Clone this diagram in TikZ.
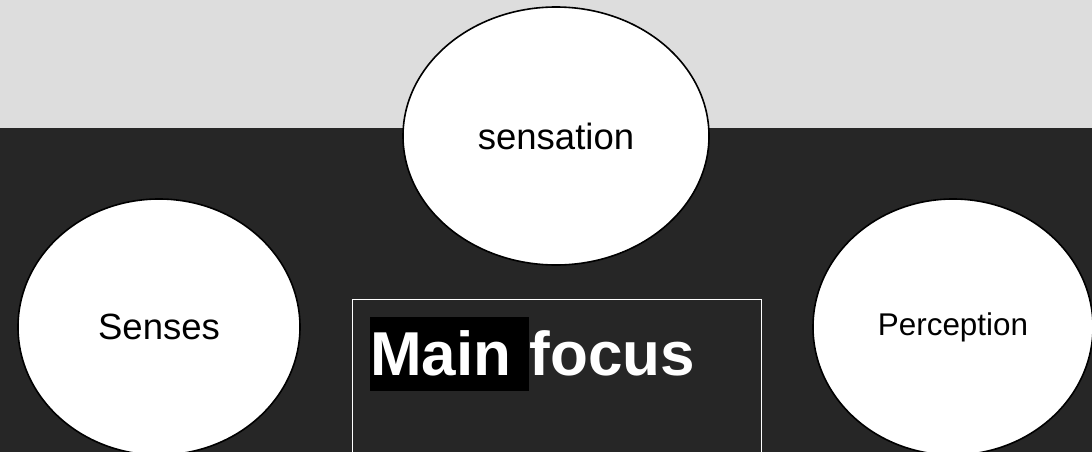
\documentclass[tikz,border=0pt]{standalone}
\usepackage{fontspec}
\setmainfont{Liberation Sans}
\usetikzlibrary{shapes.geometric,positioning}
\definecolor{bandgray}{RGB}{221,221,221}
\definecolor{darkbg}{RGB}{38,38,38}

\begin{document}
\begin{tikzpicture}[x=1pt,y=-1pt,
  every node/.style={inner sep=0pt},
  bubble/.style={ellipse, draw=black, line width=1.6pt, fill=white, text=black}]
\clip (0,0) rectangle (1092,452);
\fill[bandgray] (0,0) rectangle (1092,128);
\fill[darkbg] (0,128) rectangle (1092,452);
\node[bubble, minimum width=306pt, minimum height=258pt, font=\fontsize{36.5}{40}\selectfont] (sensation) at (556,136) {sensation};
\node[bubble, minimum width=282pt, minimum height=256pt, font=\fontsize{36.5}{40}\selectfont] (senses) at (159,327) {Senses};
\node[bubble, minimum width=280pt, minimum height=256pt, font=\fontsize{31.4}{35}\selectfont] (perception) at (953,327) {Perception};
\draw[white, line width=1pt] (352,299) rectangle (761,470);
\node[fill=black, text=white, font=\fontsize{62}{70}\selectfont\bfseries, text width=159pt, align=left, text height=58pt, text depth=16pt, anchor=base west] (mainword) at (370,375) {Main};
\node[text=white, font=\fontsize{62}{70}\selectfont\bfseries, anchor=base west] (focusword) at (mainword.base east) {focus};
\end{tikzpicture}
\end{document}
